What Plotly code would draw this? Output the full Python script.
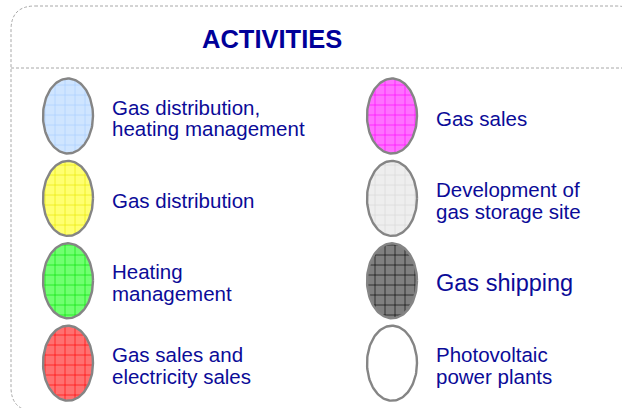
import numpy as np
import plotly.graph_objects as go

# ---- data ----
title_text = "ACTIVITIES"
left_labels = ["Gas distribution,<br>heating management", "Gas distribution",
               "Heating<br>management", "Gas sales and<br>electricity sales"]
right_labels = ["Gas sales", "Development of<br>gas storage site",
                "Gas shipping", "Photovoltaic<br>power plants"]
left_fill = ["#cfe5ff", "#ffff70", "#70ff70", "#ff7070"]
left_grid = ["#a6cbff", "#e6e600", "#00e000", "#ff0000"]
right_fill = ["#ff70ff", "#eeeeee", "#808080", "#ffffff"]
right_grid = ["#ff00ff", "#d6d6d6", "#000000", None]

W, H = 622, 408
TEXT_COLOR = "#0b0b98"
fig = go.Figure()

t = np.linspace(0, 2 * np.pi, 121)
RX, RY = 25, 37.5
ROW0, ROWSTEP = 116, 82.4
COLS = [(68, 109.5), (392, 433.5)]
LINE_GAP = 21.8

annotations = []
for ci, (labels, fills, grids) in enumerate([(left_labels, left_fill, left_grid),
                                              (right_labels, right_fill, right_grid)]):
    cx, tx = COLS[ci]
    for ri, (lab, fc, gc) in enumerate(zip(labels, fills, grids)):
        cy = ROW0 + ri * ROWSTEP
        kw = {}
        if gc is not None:
            kw["fillpattern"] = dict(shape="+", bgcolor=fc, fgcolor=gc,
                                     size=10, solidity=0.12, fillmode="replace")
        fig.add_trace(go.Scatter(
            x=cx + RX * np.cos(t), y=cy + RY * np.sin(t),
            mode="lines", fill="toself", fillcolor=fc,
            line=dict(color="#858585", width=2.4),
            hoverinfo="skip", showlegend=False, **kw))
        lines = lab.split("<br>")
        big = lab == "Gas shipping"
        fs = 23.5 if big else 20.5
        n = len(lines)
        for li, ln in enumerate(lines):
            ly = cy + 2 + (li - (n - 1) / 2) * LINE_GAP
            annotations.append(dict(x=tx, y=ly, xref="x", yref="y", text=ln,
                                    showarrow=False, xanchor="left", yanchor="middle",
                                    font=dict(family="Liberation Sans, Arial", size=fs,
                                              color=TEXT_COLOR)))

annotations.append(dict(x=272, y=38.5, xref="x", yref="y", text="<b>%s</b>" % title_text,
                        showarrow=False, xanchor="center", yanchor="middle",
                        font=dict(family="Liberation Sans, Arial", size=25.5, color="#000099")))

# frame: rounded dashed box extending past the right and bottom edges
L, T, R, B, r = 11, 6, 640, 411, 24
box_path = (f"M {L+r},{T} L {R-r},{T} Q {R},{T} {R},{T+r} L {R},{B-r} Q {R},{B} {R-r},{B} "
            f"L {L+r},{B} Q {L},{B} {L},{B-r} L {L},{T+r} Q {L},{T} {L+r},{T} Z")
shapes = [
    dict(type="path", path=box_path, xref="x", yref="y",
         line=dict(color="#a8a8a8", width=1, dash="3px,2px"), layer="below"),
    dict(type="line", x0=L, x1=R, y0=68, y1=68, xref="x", yref="y",
         line=dict(color="#a8a8a8", width=1, dash="3px,2px"), layer="below"),
]

fig.update_layout(
    width=W, height=H, margin=dict(l=0, r=0, t=0, b=0),
    paper_bgcolor="white", plot_bgcolor="white",
    xaxis=dict(range=[0, W], visible=False, fixedrange=True),
    yaxis=dict(range=[H, 0], visible=False, fixedrange=True),
    annotations=annotations, shapes=shapes, showlegend=False,
)
fig.write_html("out.html", config={"displayModeBar": False},
               post_script="document.body.style.margin='0';document.body.style.overflow='hidden';")
